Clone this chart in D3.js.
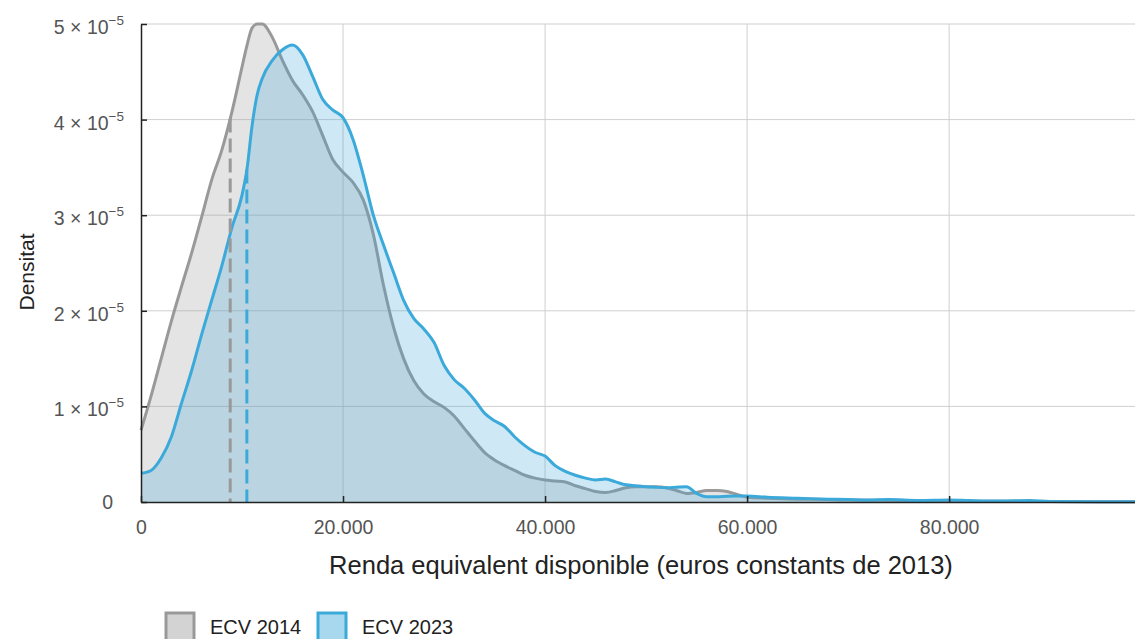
<!DOCTYPE html>
<html>
  <head>
    <meta charset="utf-8">
    <script type="text/javascript" src="https://d3js.org/d3.v7.min.js"></script>
    <style>
      body { margin: 0; background: #fff; }
      svg { font-family: "Liberation Sans", Arial, sans-serif; }
    </style>
  </head>
  <body>
    <script type="text/javascript">
        // income grid (euros constants 2013) and densities (x 1e-5)
        var income = [0,1000,2000,3000,4000,5000,6000,7000,8000,9000,10000,10500,11000,11500,12000,
            13000,14000,15000,16000,17000,18000,19000,20000,21000,22000,23000,24000,25000,26000,27000,
            28000,29000,30000,31000,32000,33000,34000,35000,36000,37000,38000,39000,40000,41000,42000,
            43000,44000,45000,46000,47000,48000,49000,50000,51000,52000,53000,54000,55000,56000,57000,
            58000,59000,60000,62000,65000,68000,70000,72000,74000,77000,80000,82000,85000,88000,90000,98400];

        var dens2014 = [0.75,1.11,1.50,1.89,2.25,2.60,2.98,3.37,3.68,4.08,4.55,4.78,4.96,5.0,5.0,
            4.86,4.62,4.41,4.26,4.08,3.83,3.58,3.45,3.34,3.16,2.80,2.27,1.83,1.50,1.27,
            1.13,1.05,0.99,0.90,0.77,0.64,0.52,0.44,0.38,0.33,0.28,0.25,0.23,0.22,0.21,
            0.17,0.14,0.11,0.10,0.12,0.15,0.16,0.16,0.16,0.15,0.12,0.09,0.10,0.12,0.12,
            0.11,0.08,0.05,0.04,0.03,0.025,0.02,0.018,0.016,0.013,0.01,0.009,0.008,0.006,0.005,0.003];

        var dens2023 = [0.30,0.33,0.46,0.68,1.03,1.37,1.75,2.11,2.47,2.87,3.21,3.49,3.94,4.26,4.43,
            4.62,4.73,4.78,4.68,4.45,4.21,4.10,4.02,3.79,3.42,3.00,2.69,2.40,2.11,1.92,
            1.81,1.67,1.43,1.28,1.19,1.07,0.93,0.85,0.79,0.68,0.59,0.52,0.48,0.38,0.32,
            0.28,0.25,0.23,0.24,0.21,0.18,0.17,0.16,0.155,0.15,0.155,0.16,0.09,0.055,0.055,
            0.06,0.062,0.063,0.05,0.04,0.03,0.025,0.02,0.025,0.015,0.02,0.015,0.01,0.015,0.005,0.002];

        var seriesNames = ["ECV 2014", "ECV 2023"];
        var medians = [8830, 10480];
        var xTicks = [0, 20000, 40000, 60000, 80000];
        var yTicks = [0, 1, 2, 3, 4, 5];

        var width = 1135, height = 639;
        var plotLeft = 141, plotTop = 24, plotBottom = 502, plotRight = 1135;

        var lineCol = ["#999999", "#3ba9d9"];
        var fillCol = ["#9b9b9b", "#3ba9d9"];
        var legendFill = ["#d3d3d3", "#a8d8ee"];

        var svg = d3.select("body").append("svg")
            .attr("width", width)
            .attr("height", height);

        var x = d3.scaleLinear().domain([0, 98400]).range([plotLeft, plotRight]);
        var y = d3.scaleLinear().domain([0, 5]).range([plotBottom, plotTop]);

        //gridlines
        var grid = svg.append("g").attr("stroke", "#cfcfcf").attr("stroke-width", 1);
        grid.selectAll(".h").data(yTicks.slice(1)).enter().append("line")
            .attr("x1", plotLeft).attr("x2", plotRight)
            .attr("y1", d => y(d)).attr("y2", d => y(d));
        grid.selectAll(".v").data(xTicks.slice(1)).enter().append("line")
            .attr("x1", d => x(d)).attr("x2", d => x(d))
            .attr("y1", plotTop).attr("y2", plotBottom);

        var series = [dens2014, dens2023].map(function(vals) {
            return income.map((v, i) => ({x: v, y: vals[i]}));
        });

        var area = d3.area().curve(d3.curveMonotoneX)
            .x(d => x(d.x)).y0(y(0)).y1(d => y(d.y));
        var line = d3.line().curve(d3.curveMonotoneX)
            .x(d => x(d.x)).y(d => y(d.y));

        series.forEach(function(s, i) {
            svg.append("path").datum(s)
                .attr("fill", fillCol[i])
                .attr("fill-opacity", i == 0 ? 0.27 : 0.25)
                .attr("d", area);
            svg.append("path").datum(s)
                .attr("fill", "none")
                .attr("stroke", lineCol[i])
                .attr("stroke-width", 3)
                .attr("stroke-linejoin", "round")
                .attr("d", line);
        });

        //dashed median lines, from the curve down to the axis
        function densAt(vals, v) {
            var j = d3.bisectRight(income, v) - 1;
            var t = (v - income[j]) / (income[j + 1] - income[j]);
            return vals[j] + t * (vals[j + 1] - vals[j]);
        }
        [dens2014, dens2023].forEach(function(vals, i) {
            svg.append("line")
                .attr("x1", x(medians[i])).attr("x2", x(medians[i]))
                .attr("y1", y(densAt(vals, medians[i]))).attr("y2", y(0))
                .attr("stroke", lineCol[i])
                .attr("stroke-width", 3)
                .attr("stroke-dasharray", "14,6");
        });

        //axes
        var xAxis = d3.axisBottom(x).tickValues(xTicks).tickSize(-6).tickSizeOuter(0).tickPadding(18)
            .tickFormat(d => d3.format(",")(d).replace(/,/g, "."));
        var gx = svg.append("g").attr("transform", "translate(0," + plotBottom + ")").call(xAxis);
        gx.select(".domain").attr("stroke", "#222").attr("stroke-width", 1.5);
        gx.selectAll(".tick line").attr("stroke", "#222").attr("stroke-width", 1.5);
        gx.selectAll("text").attr("fill", "#555").style("font-size", "19.5px")
            .style("font-family", "Liberation Sans, Arial, sans-serif");

        var yAxis = d3.axisLeft(y).tickValues(yTicks).tickSize(-6).tickSizeOuter(0).tickFormat("");
        var gy = svg.append("g").attr("transform", "translate(" + plotLeft + ",0)").call(yAxis);
        gy.select(".domain").attr("stroke", "#222").attr("stroke-width", 1.5);
        gy.selectAll(".tick line").attr("stroke", "#222").attr("stroke-width", 1.5);

        var ylab = svg.append("g").attr("fill", "#555");
        yTicks.forEach(function(t) {
            if (t == 0) {
                ylab.append("text").attr("x", 113).attr("y", y(t) + 7)
                    .attr("text-anchor", "end").style("font-size", "19.5px").text("0");
            } else {
                var tx = ylab.append("text").attr("x", 124).attr("y", y(t) + 10)
                    .attr("text-anchor", "end").style("font-size", "19.5px");
                tx.append("tspan").text(t + " \u00d7 10");
                tx.append("tspan").attr("dy", -9).style("font-size", "13.5px").text("\u22125");
            }
        });

        //axis titles
        svg.append("text")
            .attr("x", 641).attr("y", 574)
            .attr("text-anchor", "middle")
            .attr("fill", "#222")
            .style("font-size", "25.5px")
            .text("Renda equivalent disponible (euros constants de 2013)");
        svg.append("text")
            .attr("transform", "translate(34,272) rotate(-90)")
            .attr("text-anchor", "middle")
            .attr("fill", "#222")
            .style("font-size", "21px")
            .text("Densitat");

        //legend
        var lx = [166, 318];
        seriesNames.forEach(function(n, i) {
            svg.append("rect")
                .attr("x", lx[i]).attr("y", 613)
                .attr("width", 28).attr("height", 28)
                .attr("fill", legendFill[i])
                .attr("stroke", lineCol[i])
                .attr("stroke-width", 3);
            svg.append("text")
                .attr("x", lx[i] + 44).attr("y", 634)
                .attr("fill", "#222")
                .style("font-size", "20px")
                .text(n);
        });
    </script>
  </body>
</html>
